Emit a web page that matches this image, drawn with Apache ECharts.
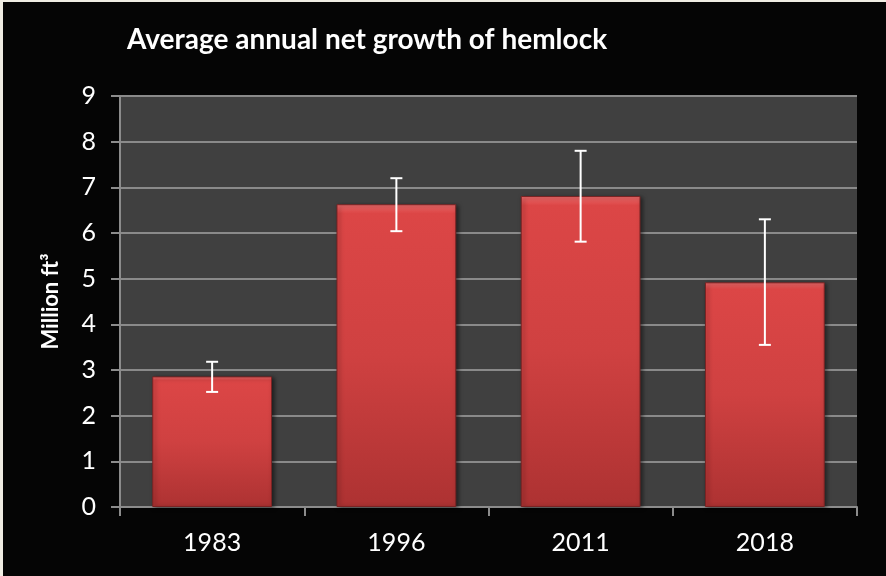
<!DOCTYPE html>
<html><head><meta charset="utf-8">
<script src="https://cdn.jsdelivr.net/npm/echarts@6/dist/echarts.min.js"></script>
<style>
html,body{margin:0;padding:0;background:#f0ede3;width:886px;height:576px;overflow:hidden}
#c{position:absolute;left:3px;top:2px;width:883px;height:574px;background:#050505}
</style></head><body>
<div id="c"></div>
<script>
const categories = ['1983','1996','2011','2018'];
const values = [2.86, 6.63, 6.81, 4.92];
const errLow = [2.52, 6.04, 5.81, 3.55];
const errHigh = [3.18, 7.20, 7.80, 6.30];
const yTicks = [0,1,2,3,4,5,6,7,8,9];

const chart = echarts.init(document.getElementById('c'), null, {renderer:'canvas'});
const font = 'Lato, "Open Sans", sans-serif';
chart.setOption({
  backgroundColor:'#050505',
  animation:false,
  title:{text:'Average annual net growth of hemlock', left:119, top:19,
    textStyle:{color:'#fff', fontFamily:font, fontWeight:'bold', fontSize:28}},
  grid:{left:117, right:29, top:94, bottom:69, show:true, backgroundColor:'#404040', borderWidth:0},
  xAxis:{type:'category', data:categories,
    axisLine:{lineStyle:{color:'#8c8c8c', width:2}},
    axisTick:{show:true, length:9, lineStyle:{color:'#8c8c8c', width:2}},
    axisLabel:{color:'#fff', fontFamily:font, fontSize:25, margin:23}},
  yAxis:{type:'value', min:0, max:9, interval:1,
    name:'Million ft³', nameLocation:'middle', nameGap:58, nameRotate:90,
    nameTextStyle:{color:'#fff', fontFamily:font, fontWeight:'bold', fontSize:22},
    axisLine:{show:true, lineStyle:{color:'#8c8c8c', width:2}},
    axisTick:{show:true, length:9, lineStyle:{color:'#8c8c8c', width:2}},
    splitLine:{lineStyle:{color:'#8a8a8a', width:2}},
    axisLabel:{color:'#fff', fontFamily:font, fontSize:25, margin:24,
      formatter:v=>yTicks.includes(v)?String(v):''}},
  series:[
    {type:'bar', data:values, barWidth:'65%',
      itemStyle:{
        color:{type:'linear',x:0,y:0,x2:0,y2:1,colorStops:[
          {offset:0,color:'#ee6b6b'},{offset:0.03,color:'#dc4646'},
          {offset:0.5,color:'#cf4141'},{offset:1,color:'#ad3232'}]},
        borderColor:'#7a2424', borderWidth:1,
        shadowColor:'rgba(0,0,0,0.5)', shadowBlur:4, shadowOffsetX:2, shadowOffsetY:1}},
    {type:'custom', z:10,
      data:categories.map((c,i)=>[i, errLow[i], errHigh[i]]),
      renderItem:(params, api)=>{
        const lo = api.coord([api.value(0), api.value(1)]);
        const hi = api.coord([api.value(0), api.value(2)]);
        const w = 6;
        const st = {stroke:'#ffffff', lineWidth:2};
        return {type:'group', children:[
          {type:'line', shape:{x1:hi[0],y1:hi[1],x2:lo[0],y2:lo[1]}, style:st},
          {type:'line', shape:{x1:hi[0]-w,y1:hi[1],x2:hi[0]+w,y2:hi[1]}, style:st},
          {type:'line', shape:{x1:lo[0]-w,y1:lo[1],x2:lo[0]+w,y2:lo[1]}, style:st}
        ]};
      }}
  ]
});
</script></body></html>
